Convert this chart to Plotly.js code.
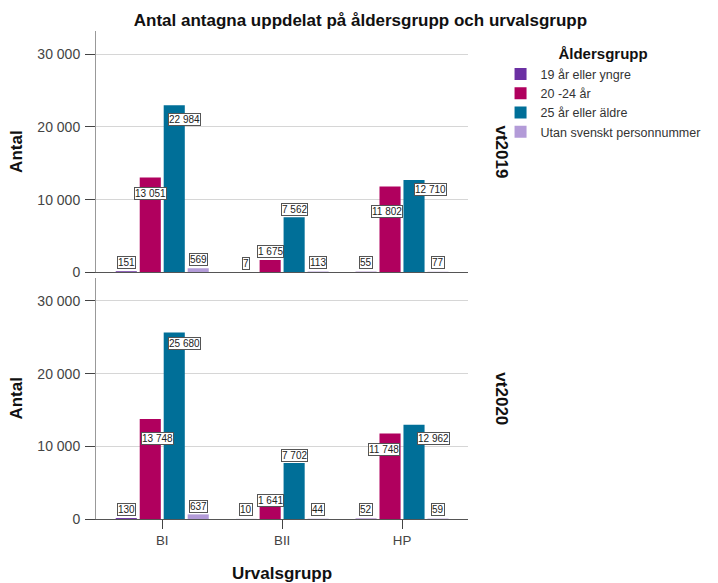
<!DOCTYPE html>
<html>
<head>
<meta charset="utf-8">
<script src="https://cdn.plot.ly/plotly-3.0.1.min.js"></script>
<style>
html,body{margin:0;padding:0;background:#fff;}
#chart{width:718px;height:583px;}
</style>
</head>
<body>
<div id="chart"></div>
<script>
// ---- data ----
const categories = ['BI', 'BII', 'HP'];
const ageGroups = ['19 år eller yngre', '20 -24 år', '25 år eller äldre', 'Utan svenskt personnummer'];
const panels = ['vt2019', 'vt2020'];

const vt2019_19yngre = [151, 7, 55];
const vt2019_20_24   = [13051, 1675, 11802];
const vt2019_25aldre = [22984, 7562, 12710];
const vt2019_utan    = [569, 113, 77];

const vt2020_19yngre = [130, 10, 52];
const vt2020_20_24   = [13748, 1641, 11748];
const vt2020_25aldre = [25680, 7702, 12962];
const vt2020_utan    = [637, 44, 59];

const yTicks = [0, 10000, 20000, 30000];

// ---- label placement offsets (pixels), per age group x category ----
const labelDx2019 = [[0,0,0],[0,0,-3],[10,0,16],[0,0,0]];
const labelDy2019 = [[9,9,9],[-16,8.5,-24.5],[-14,8,-9.5],[8.5,8.5,9]];
const labelDx2020 = [[0,0,0],[7,0,-6],[10,0,19.5],[0,0,0]];
const labelDy2020 = [[9,9,9],[-19.5,7,-16],[-11.5,7.3,-14],[7.6,9,9]];

// ---- styles ----
const colors = ['#6b30a3', '#b0005e', '#006f98', '#b39bd8'];
const FONT = 'Liberation Sans, Arial, Helvetica, sans-serif';
const BARGAP = 0.2;

const seriesByPanel = [
  [vt2019_19yngre, vt2019_20_24, vt2019_25aldre, vt2019_utan],
  [vt2020_19yngre, vt2020_20_24, vt2020_25aldre, vt2020_utan]
];
const dxByPanel = [labelDx2019, labelDx2020];
const dyByPanel = [labelDy2019, labelDy2020];

function fmt(v) {
  return String(v).replace(/\B(?=(\d{3})+(?!\d))/g, ' ');
}

const traces = [];
const annotations = [];
const slot = (1 - BARGAP) / ageGroups.length;

seriesByPanel.forEach((series, p) => {
  const xa = p === 0 ? 'x' : 'x2';
  const ya = p === 0 ? 'y' : 'y2';
  series.forEach((vals, k) => {
    traces.push({
      type: 'bar',
      name: ageGroups[k],
      x: categories,
      y: vals,
      xaxis: xa,
      yaxis: ya,
      legendgroup: ageGroups[k],
      showlegend: p === 0,
      marker: {color: colors[k], line: {width: 0}},
      hoverinfo: 'x+y+name'
    });
    vals.forEach((v, i) => {
      annotations.push({
        xref: xa, yref: ya,
        x: i + (k - (ageGroups.length - 1) / 2) * slot,
        y: v,
        text: fmt(v),
        showarrow: false,
        xanchor: 'center', yanchor: 'middle',
        xshift: dxByPanel[p][k][i],
        yshift: dyByPanel[p][k][i],
        font: {family: FONT, size: 10, color: '#222'},
        bgcolor: '#ffffff',
        bordercolor: '#555',
        borderwidth: 1,
        borderpad: 0
      });
    });
  });
});

// facet labels
const facetY = [0.753, 0.247];
panels.forEach((name, p) => {
  annotations.push({
    xref: 'paper', yref: 'paper',
    x: 1.089, y: facetY[p],
    xanchor: 'center', yanchor: 'middle',
    text: '<b>' + name + '</b>',
    textangle: 90,
    showarrow: false,
    font: {family: FONT, size: 17, color: '#111'}
  });
});

const xRange = [-0.5527, 2.5503];
const yRange = [0, 33200];

function yAxis(domain) {
  return {
    domain: domain,
    range: yRange,
    tickvals: yTicks,
    tickformat: ',d',
    ticks: 'outside',
    ticklen: 10,
    tickcolor: '#444',
    tickwidth: 1,
    ticklabelstandoff: 2,
    showline: true,
    linecolor: '#999',
    linewidth: 1,
    showgrid: true,
    gridcolor: '#d6d6d6',
    gridwidth: 1,
    zeroline: false,
    tickfont: {family: FONT, size: 14, color: '#444'},
    title: {text: '<b>Antal</b>', font: {family: FONT, size: 17, color: '#111'}, standoff: 10},
    fixedrange: true
  };
}

const layout = {
  width: 718,
  height: 583,
  margin: {l: 96, r: 229, t: 31, b: 64, pad: 0},
  paper_bgcolor: '#ffffff',
  plot_bgcolor: '#ffffff',
  separators: ', ',
  font: {family: FONT, color: '#333'},
  barmode: 'group',
  bargap: BARGAP,
  bargroupgap: 0.12,
  title: {
    text: '<b>Antal antagna uppdelat på åldersgrupp och urvalsgrupp</b>',
    font: {family: FONT, size: 17, color: '#111'},
    xref: 'container', x: 0.502, xanchor: 'center',
    yref: 'container', y: 1 - 20 / 583, yanchor: 'middle'
  },
  xaxis: {
    domain: [0, 1],
    anchor: 'y',
    type: 'category',
    categoryarray: categories,
    range: xRange,
    showticklabels: false,
    ticks: '',
    showline: true,
    linecolor: '#555',
    linewidth: 1,
    showgrid: false,
    zeroline: false,
    fixedrange: true
  },
  xaxis2: {
    domain: [0, 1],
    anchor: 'y2',
    type: 'category',
    categoryarray: categories,
    range: xRange,
    ticks: 'outside',
    ticklen: 9,
    tickcolor: '#444',
    showline: true,
    linecolor: '#555',
    linewidth: 1,
    showgrid: false,
    zeroline: false,
    tickfont: {family: FONT, size: 13.3, color: '#444'},
    title: {text: '<b>Urvalsgrupp</b>', font: {family: FONT, size: 17, color: '#111'}, standoff: 20},
    fixedrange: true
  },
  yaxis: yAxis([0.5056, 1]),
  yaxis2: Object.assign(yAxis([0, 0.4944]), {anchor: 'x2'}),
  legend: {
    x: 1.0875, xanchor: 'left',
    y: 0.982, yanchor: 'top',
    bgcolor: 'rgba(0,0,0,0)',
    borderwidth: 0,
    traceorder: 'normal',
    font: {family: FONT, size: 12.5, color: '#333'},
    title: {text: '<b>Åldersgrupp</b>', side: 'top center', font: {family: FONT, size: 15, color: '#111'}}
  },
  annotations: annotations,
  showlegend: true
};
layout.yaxis.anchor = 'x';

Plotly.newPlot('chart', traces, layout, {displayModeBar: false, staticPlot: true});
</script>
</body>
</html>
